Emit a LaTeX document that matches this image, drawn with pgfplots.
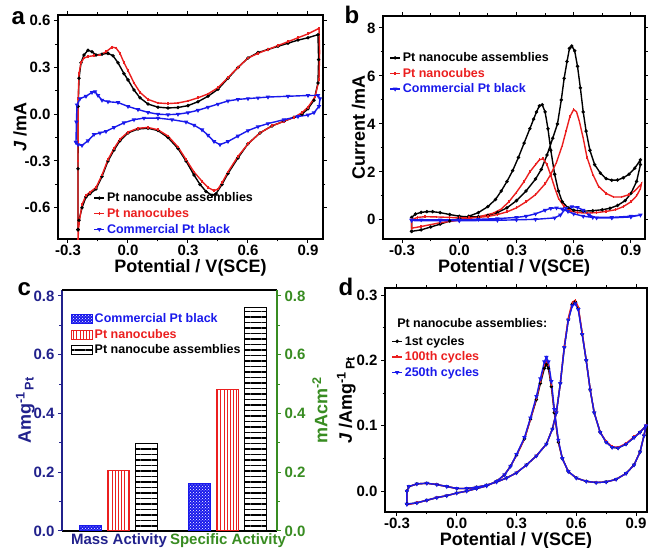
\documentclass[border=0pt]{standalone}
\usepackage{fontspec}
\setmainfont{Liberation Sans}
\usepackage{pgfplots}
\pgfplotsset{compat=1.18}
\usetikzlibrary{patterns,patterns.meta}

\definecolor{cvred}{rgb}{0.92,0.12,0.12}
\definecolor{cvblue}{rgb}{0.10,0.10,0.92}
\definecolor{navy}{rgb}{0.13,0.13,0.55}
\definecolor{cgreen}{rgb}{0.22,0.55,0.13}

\newcommand{\fs}[1]{\bfseries\fontsize{#1}{#1}\selectfont}

\pgfplotsset{
  panel/.style={
    scale only axis,
    axis line style={line width=1.3pt},
    tick align=outside,
    major tick length=4pt,
    minor tick length=2.5pt,
    every tick/.style={black,line width=1pt},
    tick label style={font=\fs{15}},
    label style={font=\fs{18}},
    /pgf/number format/assume math mode=true,
    xticklabel style={/pgf/number format/fixed,/pgf/number format/fixed zerofill,/pgf/number format/precision=1},
    clip=true,
  },
  cv/.style={
    panel,
    xtick={-0.3,0,0.3,0.6,0.9},
    minor x tick num=1,
    xticklabel style={yshift=1.5pt},
    xlabel={Potential / V(SCE)},
    xlabel shift=-3pt,
    legend style={draw=none,fill=none,font=\fs{12.5},row sep=1pt,inner sep=1pt,cells={anchor=west}},
    legend image code/.code={\draw[mark repeat=2,mark phase=2,#1] plot coordinates {(0pt,0pt) (5pt,0pt) (10pt,0pt)};},
  },
  blk/.style={black,line width=1.4pt,mark=*,mark size=0.9pt},
  rd/.style={cvred,line width=1.4pt,mark=|,mark size=1.4pt},
  bl/.style={cvblue,line width=1.4pt,mark=triangle*,mark size=1.2pt,mark options={rotate=180}},
}

\begin{document}
\begin{tikzpicture}[x=1pt,y=1pt]
\path[use as bounding box] (0,0) rectangle (648,548);

% ---------------- a ----------------
\begin{axis}[cv,
  at={(58pt,309pt)}, anchor=south west,
  width=265pt, height=224pt,
  xmin=-0.35, xmax=0.975, ymin=-0.80, ymax=0.636,
  ytick={-0.6,-0.3,0,0.3,0.6}, minor y tick num=1,
  yticklabel style={/pgf/number format/fixed,/pgf/number format/fixed zerofill,/pgf/number format/precision=1},
  ylabel={\textit{J} /mA}, ylabel shift=-9pt,
  legend style={at={(0.13,0.22)},anchor=north west},
]
\addplot[blk] coordinates {
(-0.25,-0.74) (-0.25,-0.35) (-0.249,0.05) (-0.245,0.23) (-0.235,0.33) (-0.22,0.38) (-0.2,0.41) (-0.18,0.40) (-0.16,0.38) (-0.13,0.385) (-0.1,0.39) (-0.075,0.375) (-0.05,0.33) (-0.02,0.26) (0.0,0.22) (0.03,0.155) (0.06,0.105) (0.1,0.065) (0.15,0.045) (0.2,0.04) (0.25,0.043) (0.3,0.055) (0.35,0.08) (0.4,0.115) (0.45,0.16) (0.5,0.23) (0.55,0.3) (0.6,0.36) (0.65,0.395) (0.7,0.415) (0.75,0.435) (0.8,0.455) (0.85,0.475) (0.9,0.49) (0.95,0.51) (0.953,0.35) (0.95,0.2) (0.93,0.09) (0.9,0.035) (0.87,0.0) (0.83,-0.02) (0.78,-0.045) (0.72,-0.075) (0.66,-0.12) (0.6,-0.19) (0.55,-0.28) (0.5,-0.38) (0.47,-0.45) (0.44,-0.51) (0.42,-0.52) (0.39,-0.495) (0.36,-0.45) (0.33,-0.39) (0.29,-0.3) (0.25,-0.22) (0.2,-0.15) (0.15,-0.105) (0.1,-0.09) (0.05,-0.095) (0.0,-0.12) (-0.04,-0.17) (-0.07,-0.23) (-0.1,-0.3) (-0.13,-0.4) (-0.16,-0.48) (-0.19,-0.51) (-0.21,-0.53) (-0.23,-0.6) (-0.245,-0.68) (-0.25,-0.74)
};
\addlegendentry{Pt nanocube assemblies}
\addplot[rd] coordinates {
(-0.25,-0.8) (-0.25,-0.3) (-0.249,0.1) (-0.245,0.26) (-0.235,0.33) (-0.22,0.36) (-0.2,0.37) (-0.17,0.375) (-0.14,0.38) (-0.11,0.4) (-0.08,0.43) (-0.06,0.425) (-0.04,0.39) (-0.02,0.33) (0.0,0.28) (0.03,0.2) (0.06,0.14) (0.1,0.095) (0.15,0.072) (0.2,0.068) (0.25,0.072) (0.3,0.085) (0.35,0.105) (0.4,0.13) (0.45,0.17) (0.5,0.235) (0.55,0.3) (0.6,0.36) (0.65,0.39) (0.7,0.415) (0.75,0.44) (0.8,0.465) (0.85,0.49) (0.9,0.515) (0.955,0.55) (0.958,0.4) (0.955,0.22) (0.935,0.11) (0.9,0.045) (0.87,0.01) (0.83,-0.02) (0.78,-0.045) (0.72,-0.075) (0.66,-0.12) (0.6,-0.19) (0.55,-0.27) (0.5,-0.37) (0.47,-0.44) (0.45,-0.48) (0.43,-0.49) (0.4,-0.47) (0.37,-0.43) (0.33,-0.37) (0.29,-0.29) (0.25,-0.21) (0.2,-0.14) (0.15,-0.1) (0.1,-0.085) (0.05,-0.09) (0.0,-0.115) (-0.04,-0.16) (-0.07,-0.22) (-0.1,-0.29) (-0.13,-0.39) (-0.16,-0.47) (-0.19,-0.5) (-0.21,-0.52) (-0.23,-0.58) (-0.245,-0.7) (-0.25,-0.8)
};
\addlegendentry{\textcolor{cvred}{Pt nanocubes}}
\addplot[bl] coordinates {
(-0.26,-0.18) (-0.258,-0.05) (-0.255,0.06) (-0.24,0.1) (-0.21,0.115) (-0.18,0.14) (-0.165,0.145) (-0.15,0.12) (-0.13,0.09) (-0.1,0.08) (-0.05,0.075) (0.0,0.05) (0.05,0.03) (0.1,0.012) (0.15,0.0) (0.2,-0.003) (0.25,0.0) (0.3,0.01) (0.35,0.025) (0.4,0.045) (0.45,0.065) (0.5,0.085) (0.55,0.095) (0.6,0.1) (0.65,0.105) (0.7,0.11) (0.8,0.115) (0.9,0.12) (0.95,0.12) (0.96,0.1) (0.955,0.05) (0.93,0.01) (0.9,-0.005) (0.85,-0.015) (0.78,-0.035) (0.7,-0.06) (0.65,-0.08) (0.6,-0.105) (0.55,-0.14) (0.5,-0.175) (0.46,-0.195) (0.43,-0.175) (0.4,-0.135) (0.37,-0.1) (0.33,-0.07) (0.29,-0.05) (0.22,-0.035) (0.15,-0.025) (0.08,-0.025) (0.03,-0.035) (-0.02,-0.055) (-0.07,-0.085) (-0.11,-0.11) (-0.14,-0.12) (-0.17,-0.13) (-0.2,-0.17) (-0.23,-0.2) (-0.25,-0.195) (-0.26,-0.18)
};
\addlegendentry{\textcolor{cvblue}{Commercial Pt black}}
\end{axis}
\node[font=\fs{24},anchor=base west] at (8,523) {a};

% ---------------- b ----------------
\begin{axis}[cv,
  at={(383pt,309pt)}, anchor=south west,
  width=262pt, height=223pt,
  xmin=-0.4, xmax=0.974, ymin=-0.8, ymax=8.5,
  ytick={0,2,4,6,8}, minor y tick num=1,
  ylabel={Current /mA}, ylabel shift=-5pt,
  legend style={at={(0.02,0.85)},anchor=north west},
]
\addplot[blk] coordinates {
(-0.25,-0.48) (-0.25,0.1) (-0.23,0.24) (-0.2,0.31) (-0.17,0.34) (-0.14,0.34) (-0.1,0.3) (-0.05,0.22) (0.0,0.15) (0.05,0.12) (0.1,0.13) (0.15,0.18) (0.2,0.3) (0.25,0.5) (0.3,0.8) (0.35,1.2) (0.4,1.7) (0.43,2.1) (0.46,2.7) (0.49,3.4) (0.515,4.0) (0.535,5.0) (0.55,5.9) (0.565,6.6) (0.578,7.15) (0.59,7.25) (0.605,7.05) (0.62,6.4) (0.635,5.5) (0.65,4.5) (0.665,3.7) (0.685,2.9) (0.71,2.3) (0.74,1.95) (0.77,1.72) (0.8,1.65) (0.83,1.66) (0.86,1.75) (0.89,1.9) (0.92,2.15) (0.95,2.5) (0.95,2.3) (0.93,1.6) (0.9,1.1) (0.87,0.8) (0.83,0.6) (0.79,0.48) (0.75,0.42) (0.7,0.38) (0.65,0.36) (0.6,0.4) (0.57,0.5) (0.54,0.75) (0.52,1.2) (0.5,1.9) (0.48,2.9) (0.465,3.8) (0.45,4.5) (0.435,4.8) (0.42,4.75) (0.405,4.5) (0.39,4.2) (0.37,3.8) (0.34,3.2) (0.31,2.6) (0.28,2.05) (0.25,1.6) (0.22,1.2) (0.19,0.85) (0.15,0.55) (0.1,0.3) (0.05,0.15) (0.0,0.05) (-0.05,-0.05) (-0.1,-0.18) (-0.15,-0.3) (-0.2,-0.42) (-0.25,-0.48)
};
\addlegendentry{Pt nanocube assemblies}
\addplot[rd] coordinates {
(-0.25,-0.35) (-0.25,0.0) (-0.22,0.1) (-0.18,0.13) (-0.12,0.12) (-0.05,0.1) (0.0,0.08) (0.05,0.08) (0.1,0.1) (0.15,0.14) (0.2,0.22) (0.25,0.33) (0.3,0.5) (0.35,0.75) (0.4,1.05) (0.45,1.5) (0.48,1.9) (0.51,2.4) (0.54,3.1) (0.56,3.7) (0.58,4.3) (0.6,4.6) (0.615,4.5) (0.63,4.1) (0.65,3.4) (0.67,2.6) (0.7,1.9) (0.73,1.4) (0.77,1.1) (0.81,0.95) (0.85,0.95) (0.89,1.05) (0.92,1.2) (0.955,1.5) (0.95,1.3) (0.93,1.0) (0.9,0.75) (0.86,0.55) (0.82,0.42) (0.77,0.35) (0.72,0.3) (0.67,0.28) (0.62,0.3) (0.58,0.38) (0.55,0.55) (0.52,0.9) (0.5,1.35) (0.48,1.85) (0.46,2.3) (0.44,2.55) (0.42,2.5) (0.4,2.3) (0.37,2.0) (0.34,1.6) (0.3,1.15) (0.26,0.75) (0.22,0.45) (0.18,0.28) (0.1,0.12) (0.0,-0.02) (-0.1,-0.12) (-0.2,-0.28) (-0.25,-0.35)
};
\addlegendentry{\textcolor{cvred}{Pt nanocubes}}
\addplot[bl] coordinates {
(-0.25,0.0) (-0.2,0.0) (-0.1,0.0) (0.0,0.0) (0.1,0.02) (0.2,0.05) (0.3,0.1) (0.35,0.15) (0.4,0.25) (0.45,0.4) (0.48,0.48) (0.51,0.5) (0.54,0.45) (0.57,0.35) (0.6,0.25) (0.65,0.15) (0.7,0.1) (0.8,0.1) (0.9,0.15) (0.95,0.2) (0.9,0.12) (0.8,0.08) (0.72,0.08) (0.68,0.2) (0.65,0.4) (0.62,0.52) (0.59,0.55) (0.56,0.48) (0.53,0.2) (0.5,0.08) (0.4,0.02) (0.3,0.0) (0.2,-0.02) (0.0,-0.04) (-0.1,-0.04) (-0.25,-0.03)
};
\addlegendentry{\textcolor{cvblue}{Commercial Pt black}}
\end{axis}
\node[font=\fs{24},anchor=base west] at (341,524) {b};

% ---------------- c ----------------
\begin{axis}[panel,
  at={(62pt,17pt)}, anchor=south west,
  width=215pt, height=241pt,
  xmin=-0.523, xmax=1.45, ymin=0, ymax=0.82,
  axis y line*=left, axis x line*=bottom,
  y axis line style={navy}, x axis line style={black},
  ytick={0,0.2,0.4,0.6,0.8}, minor y tick num=1,
  ytick style={navy}, minor y tick style={navy},
  yticklabel style={navy,/pgf/number format/fixed,/pgf/number format/fixed zerofill,/pgf/number format/precision=1},
  xtick={0,1}, xtick style={draw=none},
  xticklabels={\textcolor{navy}{Mass Activity},\textcolor{cgreen}{Specific Activity}},
  xticklabel style={font=\fs{15},yshift=5pt},
  ylabel={\textcolor{navy}{Amg\textsuperscript{-1}\textsubscript{\,Pt}}}, ylabel shift=-8pt,
  ybar=6pt, bar width=22pt,
  legend style={at={(0.035,0.915)},anchor=north west,draw=none,fill=none,font=\fs{12.5},row sep=1pt,inner sep=1pt,cells={anchor=west}},
  legend image code/.code={\draw[#1] (0pt,-4.5pt) rectangle (21pt,4.5pt);},
]
\addplot[draw=cvblue, fill=cvblue, line width=1pt, postaction={pattern=crosshatch dots, pattern color=white}] coordinates {(0,0.02) (1,0.162)};
\addlegendentry{\textcolor{cvblue}{Commercial Pt black}}
\addplot[draw=cvred, line width=1pt, pattern={Lines[angle=90,distance=3.2pt,line width=1pt]}, pattern color=cvred] coordinates {(0,0.205) (1,0.482)};
\addlegendentry{\textcolor{cvred}{Pt nanocubes}}
\addplot[draw=black, line width=1pt, pattern={Lines[angle=0,distance=5.5pt,line width=1.4pt]}, pattern color=black] coordinates {(0,0.297) (1,0.76)};
\addlegendentry{Pt nanocube assemblies}
\end{axis}
\begin{axis}[panel,
  at={(62pt,17pt)}, anchor=south west,
  width=215pt, height=241pt,
  xmin=-0.523, xmax=1.45, ymin=0, ymax=0.82,
  axis y line*=right, axis x line*=top,
  y axis line style={cgreen}, x axis line style={black},
  xtick=\empty,
  ytick={0,0.2,0.4,0.6,0.8}, minor y tick num=1,
  ytick style={cgreen}, minor y tick style={cgreen},
  yticklabel style={cgreen,/pgf/number format/fixed,/pgf/number format/fixed zerofill,/pgf/number format/precision=1},
  ylabel={\textcolor{cgreen}{mAcm\textsuperscript{-2}}},
]
\end{axis}
\node[font=\fs{24},anchor=base west] at (14,252) {c};

% ---------------- d ----------------
\begin{axis}[cv,
  at={(385pt,36pt)}, anchor=south west,
  width=262pt, height=224pt,
  xmin=-0.36, xmax=0.955, ymin=-0.032, ymax=0.311,
  ytick={0,0.1,0.2,0.3}, minor y tick num=1,
  yticklabel style={/pgf/number format/fixed,/pgf/number format/fixed zerofill,/pgf/number format/precision=1},
  ylabel={\textit{J} /Amg\textsuperscript{-1}\textsubscript{\,Pt}}, ylabel shift=-6pt,
  legend style={at={(0.02,0.8)},anchor=north west},
]
\addplot[blk] coordinates {
(-0.25,-0.02) (-0.25,0.0) (-0.24,0.007) (-0.2,0.011) (-0.15,0.012) (-0.1,0.01) (-0.05,0.007) (0.0,0.004) (0.05,0.004) (0.1,0.006) (0.15,0.009) (0.2,0.014) (0.25,0.02) (0.3,0.028) (0.35,0.04) (0.4,0.054) (0.45,0.072) (0.48,0.095) (0.5,0.12) (0.52,0.165) (0.54,0.22) (0.56,0.262) (0.58,0.286) (0.595,0.29) (0.61,0.28) (0.63,0.24) (0.65,0.2) (0.67,0.155) (0.69,0.12) (0.72,0.09) (0.75,0.075) (0.78,0.067) (0.81,0.066) (0.85,0.072) (0.89,0.082) (0.92,0.09) (0.95,0.1) (0.94,0.085) (0.92,0.06) (0.89,0.04) (0.85,0.027) (0.8,0.018) (0.75,0.014) (0.7,0.013) (0.65,0.015) (0.6,0.02) (0.56,0.03) (0.53,0.05) (0.51,0.075) (0.49,0.12) (0.475,0.16) (0.46,0.188) (0.45,0.194) (0.44,0.188) (0.42,0.165) (0.4,0.14) (0.37,0.11) (0.34,0.08) (0.3,0.055) (0.27,0.038) (0.24,0.025) (0.2,0.015) (0.15,0.008) (0.1,0.004) (0.05,0.0) (0.0,-0.003) (-0.05,-0.007) (-0.1,-0.01) (-0.15,-0.014) (-0.2,-0.018) (-0.25,-0.02)
};
\addlegendentry{1st cycles}
\addplot[rd] coordinates {
(-0.25,-0.021) (-0.25,0.0) (-0.24,0.007) (-0.2,0.011) (-0.15,0.012) (-0.1,0.01) (-0.05,0.007) (0.0,0.004) (0.05,0.004) (0.1,0.006) (0.15,0.009) (0.2,0.014) (0.25,0.02) (0.3,0.028) (0.35,0.04) (0.4,0.054) (0.45,0.072) (0.48,0.095) (0.5,0.12) (0.52,0.165) (0.54,0.222) (0.56,0.265) (0.58,0.289) (0.595,0.292) (0.61,0.282) (0.63,0.242) (0.65,0.2) (0.67,0.155) (0.69,0.12) (0.72,0.09) (0.75,0.076) (0.78,0.068) (0.81,0.067) (0.85,0.073) (0.89,0.083) (0.92,0.09) (0.95,0.1) (0.94,0.085) (0.92,0.06) (0.89,0.04) (0.85,0.027) (0.8,0.018) (0.75,0.014) (0.7,0.013) (0.65,0.015) (0.6,0.02) (0.56,0.03) (0.53,0.05) (0.51,0.076) (0.49,0.122) (0.475,0.163) (0.46,0.193) (0.45,0.199) (0.44,0.193) (0.42,0.168) (0.4,0.142) (0.37,0.11) (0.34,0.08) (0.3,0.055) (0.27,0.038) (0.24,0.025) (0.2,0.015) (0.15,0.008) (0.1,0.004) (0.05,0.0) (0.0,-0.003) (-0.05,-0.007) (-0.1,-0.01) (-0.15,-0.014) (-0.2,-0.018) (-0.25,-0.021)
};
\addlegendentry{\textcolor{cvred}{100th cycles}}
\addplot[bl] coordinates {
(-0.25,-0.02) (-0.25,0.0) (-0.24,0.007) (-0.2,0.011) (-0.15,0.012) (-0.1,0.01) (-0.05,0.007) (0.0,0.004) (0.05,0.004) (0.1,0.006) (0.15,0.009) (0.2,0.014) (0.25,0.02) (0.3,0.028) (0.35,0.04) (0.4,0.054) (0.45,0.072) (0.48,0.095) (0.5,0.12) (0.52,0.165) (0.54,0.22) (0.56,0.262) (0.58,0.284) (0.595,0.287) (0.61,0.278) (0.63,0.24) (0.65,0.2) (0.67,0.155) (0.69,0.12) (0.72,0.09) (0.75,0.075) (0.78,0.067) (0.81,0.066) (0.85,0.072) (0.89,0.082) (0.92,0.09) (0.95,0.1) (0.94,0.085) (0.92,0.06) (0.89,0.04) (0.85,0.027) (0.8,0.018) (0.75,0.014) (0.7,0.013) (0.65,0.015) (0.6,0.02) (0.56,0.03) (0.53,0.05) (0.51,0.078) (0.49,0.125) (0.475,0.168) (0.46,0.198) (0.45,0.205) (0.44,0.198) (0.42,0.172) (0.4,0.145) (0.37,0.112) (0.34,0.082) (0.3,0.056) (0.27,0.038) (0.24,0.025) (0.2,0.015) (0.15,0.008) (0.1,0.004) (0.05,0.0) (0.0,-0.003) (-0.05,-0.007) (-0.1,-0.01) (-0.15,-0.014) (-0.2,-0.018) (-0.25,-0.02)
};
\addlegendentry{\textcolor{cvblue}{250th cycles}}
\node[anchor=west,font=\fs{12.5},inner sep=0pt] at (axis description cs:0.046,0.845) {Pt nanocube assemblies:};
\end{axis}
\node[font=\fs{24},anchor=base west] at (335,252) {d};

\end{tikzpicture}
\end{document}
